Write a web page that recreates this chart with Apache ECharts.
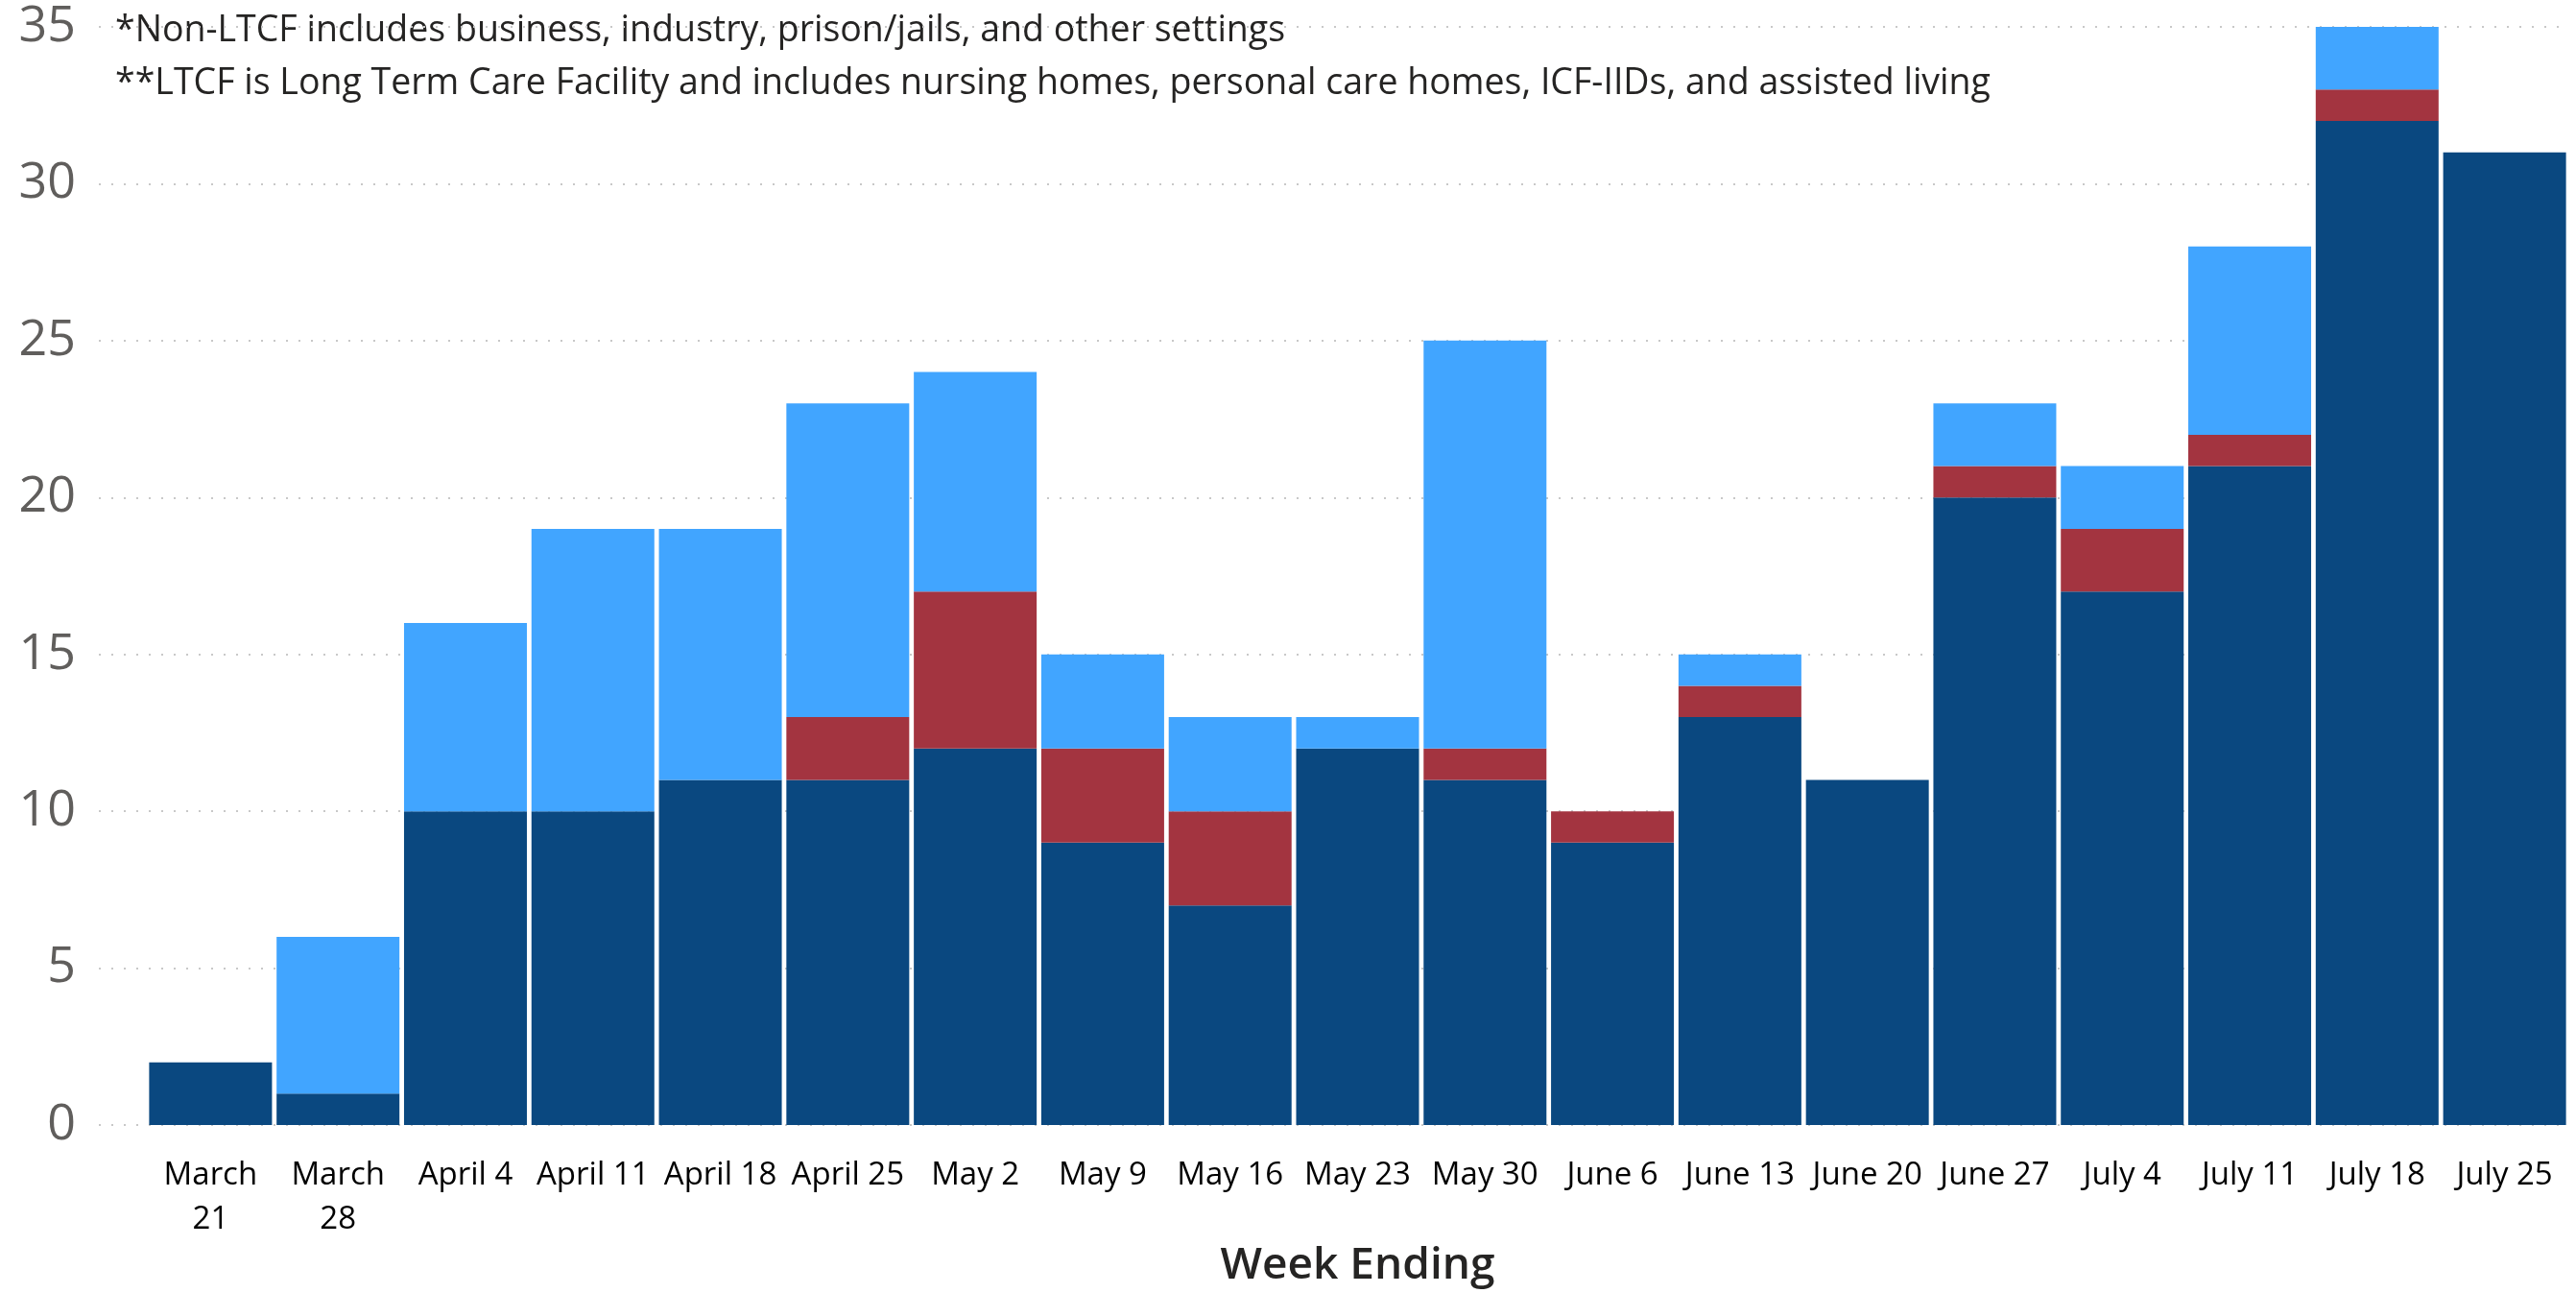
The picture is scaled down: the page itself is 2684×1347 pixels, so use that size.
<!DOCTYPE html>
<html>
<head>
<meta charset="utf-8">
<script src="https://cdn.jsdelivr.net/npm/echarts@6/dist/echarts.min.js"></script>
<style>
html,body{margin:0;padding:0;background:#fff;}
#chart{width:2684px;height:1347px;}
</style>
</head>
<body>
<div id="chart"></div>
<script>
const weeks = ['March 21','March 28','April 4','April 11','April 18','April 25','May 2','May 9','May 16','May 23','May 30','June 6','June 13','June 20','June 27','July 4','July 11','July 18','July 25'];
const weekTickLabels = ['March\n21','March\n28','April 4','April 11','April 18','April 25','May 2','May 9','May 16','May 23','May 30','June 6','June 13','June 20','June 27','July 4','July 11','July 18','July 25'];
const ltcf     = [2,1,10,10,11,11,12,9,7,12,11,9,13,11,20,17,21,32,31];
const both     = [0,0,0,0,0,2,5,3,3,0,1,1,1,0,1,2,1,1,0];
const nonLtcf  = [0,5,6,9,8,10,7,3,3,1,13,0,1,0,2,2,6,2,0];
const yTicks = [0,5,10,15,20,25,30,35];
const footnotes = [
  '*Non-LTCF includes business, industry, prison/jails, and other settings',
  '**LTCF is Long Term Care Facility and includes nursing homes, personal care homes, ICF-IIDs, and assisted living'
];
const xAxisTitle = 'Week Ending';

const chart = echarts.init(document.getElementById('chart'));
const FONT = '"Open Sans", "Noto Sans", sans-serif';
const gridTop = 28, gridBottom = 1347 - 1172;
chart.setOption({
  animation: false,
  backgroundColor: '#ffffff',
  grid: [
    {left: 103, right: 8, top: gridTop, bottom: gridBottom, containLabel: false, outerBoundsMode: 'none'},
    {left: 153, right: 8, top: gridTop, bottom: gridBottom, containLabel: false, outerBoundsMode: 'none'}
  ],
  xAxis: [
    {gridIndex: 0, type: 'value', show: false, min: 0, max: 1},
    {gridIndex: 1, type: 'category', data: weeks,
     axisLine: {show: false}, axisTick: {show: false},
     axisLabel: {interval: 0, margin: 30, color: '#000000', fontFamily: FONT, fontSize: 33, lineHeight: 46,
       formatter: (v, i) => weekTickLabels[i]},
     name: xAxisTitle, nameLocation: 'middle', nameGap: 124, nameMoveOverlap: false,
     nameTextStyle: {fontFamily: FONT, fontSize: 46, color: '#252423', fontWeight: 600}}
  ],
  yAxis: [
    {gridIndex: 0, type: 'value', min: 0, max: 35, interval: 5,
     axisLine: {show: false}, axisTick: {show: false},
     axisLabel: {margin: 24, color: '#605E5C', fontFamily: FONT, fontSize: 52,
       formatter: v => String(yTicks[yTicks.indexOf(v)])},
     splitLine: {show: true, lineStyle: {color: '#c8c8c8', width: 2, type: [2, 11]}}},
    {gridIndex: 1, type: 'value', min: 0, max: 35, interval: 5, show: false, splitLine: {show: false}}
  ],
  series: [
    {name: 'LTCF**', type: 'bar', stack: 'total', xAxisIndex: 1, yAxisIndex: 1, data: ltcf,
     itemStyle: {color: '#0A4880'}, barCategoryGap: '3.6%'},
    {name: 'Both', type: 'bar', stack: 'total', xAxisIndex: 1, yAxisIndex: 1, data: both,
     itemStyle: {color: '#A33440'}},
    {name: 'Non-LTCF*', type: 'bar', stack: 'total', xAxisIndex: 1, yAxisIndex: 1, data: nonLtcf,
     itemStyle: {color: '#41A5FF'}}
  ],
  graphic: [
    {type: 'text', x: 120, y: 32, style: {text: footnotes[0], font: '400 37.5px ' + FONT, fill: '#252423', verticalAlign: 'middle'}},
    {type: 'text', x: 120, y: 87, style: {text: footnotes[1], font: '400 37.5px ' + FONT, fill: '#252423', verticalAlign: 'middle'}}
  ]
});
</script>
</body>
</html>
